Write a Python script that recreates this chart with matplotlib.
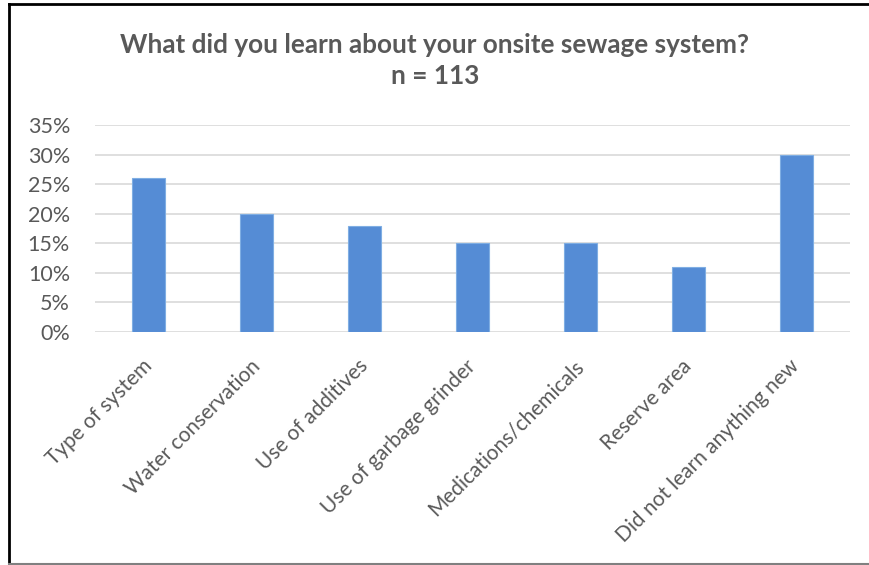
import matplotlib
matplotlib.use("Agg")
import matplotlib.pyplot as plt
import matplotlib.transforms as mtransforms
from matplotlib.lines import Line2D
from matplotlib.ticker import FuncFormatter, MultipleLocator

categories = ["Type of system", "Water conservation", "Use of additives",
              "Use of garbage grinder", "Medications/chemicals", "Reserve area",
              "Did not learn anything new"]
values = [0.26, 0.20, 0.18, 0.15, 0.15, 0.11, 0.30]

W, H = 870, 565
fig = plt.figure(figsize=(W / 100, H / 100), dpi=100)
plt.rcParams['font.family'] = ['Lato', 'DejaVu Sans']
txt = '#595959'

ax = fig.add_axes([95 / W, 1 - 332 / H, (850 - 95) / W, (332 - 125) / H])
x = range(len(categories))
ax.bar(x, values, width=0.305, color='#558CD5', edgecolor='#7FAEE3', linewidth=0.8, zorder=3)
ax.set_xlim(-0.5, len(categories) - 0.5)
ax.set_ylim(0, 0.35)
ax.yaxis.set_major_locator(MultipleLocator(0.05))
ax.yaxis.set_major_formatter(FuncFormatter(lambda v, p: f"{v*100:.0f}%"))
ax.grid(axis='y', color='#d9d9d9', linewidth=1.2, zorder=0)
for s in ax.spines.values():
    s.set_visible(False)
ax.tick_params(axis='both', length=0, colors=txt)
ax.tick_params(axis='y', pad=18, labelsize=15.5)
ax.set_xticks(list(x))
ax.set_xticklabels(categories, rotation=45, ha='right', va='top', rotation_mode='anchor')
ax.tick_params(axis='x', pad=15, labelsize=15)
offset = mtransforms.ScaledTranslation(-0.07, -0.03, fig.dpi_scale_trans)
for lab in ax.get_xticklabels():
    lab.set_transform(lab.get_transform() + offset)

fig.text(0.5, 1 - 45 / H, "What did you learn about your onsite sewage system?",
         ha='center', va='center', fontsize=18.8, fontweight='bold', color=txt)
fig.text(0.5, 1 - 76 / H, "n = 113", ha='center', va='center', fontsize=18.8,
         fontweight='bold', color=txt)

fig.add_artist(Line2D([9 / W, 1], [1 - 4 / H, 1 - 4 / H], color='black', lw=2, transform=fig.transFigure))
fig.add_artist(Line2D([9 / W, 9 / W], [1 - 4 / H, 1 - 564 / H], color='black', lw=2, transform=fig.transFigure))
fig.add_artist(Line2D([9 / W, 1], [1 - 564 / H, 1 - 564 / H], color='#808080', lw=1.5, transform=fig.transFigure))

fig.savefig("out.png", dpi=100)
